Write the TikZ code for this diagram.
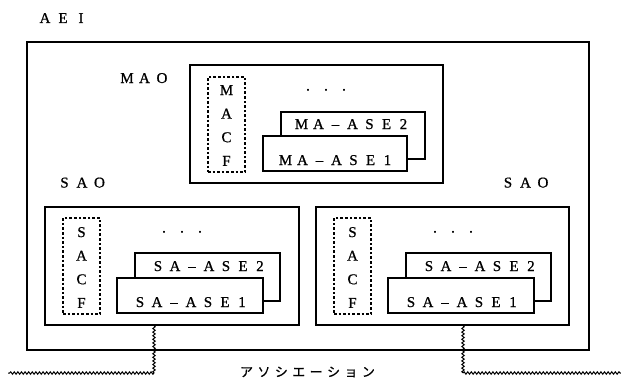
\documentclass[tikz,border=0pt]{standalone}
\usepackage{fontspec}
\setmainfont{Liberation Serif}[FakeBold=0.8]
\newfontfamily\jpfont{Noto Sans CJK JP}[FakeBold=0.6]
\usetikzlibrary{decorations.pathmorphing,fit}
\newcommand\fwcells[2]{\foreach \ch in {#2}{\makebox[#1pt]{\ch}}}
\begin{document}
\begin{tikzpicture}[x=1pt,y=-1pt,
  box/.style={draw, rectangle, line width=1.2pt, inner sep=0pt, fill=white},
  outerbox/.style={draw, rectangle, line width=1.7pt, inner sep=0pt},
  dbox/.style={draw, rectangle, line width=1.5pt, inner sep=0pt, dash pattern=on 2.6pt off 2pt},
  lbl/.style={font=\fontsize{15}{17}\selectfont, inner sep=0pt, anchor=base},
  vlbl/.style={font=\fontsize{15}{23.6}\selectfont, align=center, inner sep=0pt},
  jlbl/.style={font=\jpfont\fontsize{13}{15}\selectfont, inner sep=0pt},
  wave/.style={line width=1pt, decorate, decoration={snake, amplitude=1.2pt, segment length=3.6pt}}]
\useasboundingbox (0,0) rectangle (621,380);
% outer AEI box
\node[outerbox, fit={(27,42) (589,350)}] (aei) {};
\node[lbl] (aeit) at (63,23) {\fwcells{18}{A,E,I}};
% MAO
\node[lbl] (maot) at (144.5,83) {\fwcells{17.5}{M,A,O}};
\node[box, fit={(190,65) (443,183)}] (mao) {};
\node[dbox, fit={(208,77) (245,172)}] (macf) {};
\node[vlbl] (macft) at (226.5,125.5) {M\\A\\C\\F};
\node[lbl] (maodots) at (326,90.5) {\fwcells{18}{.,.,.}};
\node[box, fit={(281,112) (425,159)}] (mase2) {};
\node[lbl] (mase2t) at (352.5,129) {\fwcells{17}{M,A,–,A,S,E,2}};
\node[box, fit={(263,136) (407,171)}] (mase1) {};
\node[lbl] (mase1t) at (336.5,165) {\fwcells{17}{M,A,–,A,S,E,1}};
% SAO labels
\node[lbl] (saolt) at (82,187.5) {\fwcells{17.5}{S,A,O}};
\node[lbl] (saort) at (525.5,187.5) {\fwcells{17.5}{S,A,O}};
% left SAO
\node[box, fit={(45,207) (299,325)}] (saol) {};
\node[dbox, fit={(63,218) (100,314)}] (sacfl) {};
\node[vlbl] (sacflt) at (81.5,267.5) {S\\A\\C\\F};
\node[lbl] (saldots) at (182,232.5) {\fwcells{18}{.,.,.}};
\node[box, fit={(135,253) (280,301)}] (sasel2) {};
\node[lbl] (sasel2t) at (209,271) {\fwcells{17}{S,A,–,A,S,E,2}};
\node[box, fit={(117,278) (263,313)}] (sasel1) {};
\node[lbl] (sasel1t) at (191,307) {\fwcells{17}{S,A,–,A,S,E,1}};
% right SAO
\node[box, fit={(316,207) (569,325)}] (saor) {};
\node[dbox, fit={(334,218) (371,314)}] (sacfr) {};
\node[vlbl] (sacfrt) at (352.5,267.5) {S\\A\\C\\F};
\node[lbl] (sardots) at (453,232.5) {\fwcells{18}{.,.,.}};
\node[box, fit={(406,253) (551,301)}] (saser2) {};
\node[lbl] (saser2t) at (480,271) {\fwcells{17}{S,A,–,A,S,E,2}};
\node[box, fit={(388,278) (534,313)}] (saser1) {};
\node[lbl] (saser1t) at (462,307) {\fwcells{17}{S,A,–,A,S,E,1}};
% association
\coordinate (wl) at (saol.south -| 154,0);
\coordinate (wlc) at (154,373);
\coordinate (wle) at (8,373);
\coordinate (wr) at (saor.south -| 463,0);
\coordinate (wrc) at (463,373);
\coordinate (wre) at (621,373);
\draw[wave] (wl) -- (wlc);
\draw[wave] (wlc) -- (wle);
\draw[wave] (wr) -- (wrc);
\draw[wave] (wrc) -- (wre);
\node[jlbl] (assoc) at (307.5,372) {\fwcells{17.4}{ア,ソ,シ,エ,ー,シ,ョ,ン}};
\end{tikzpicture}
\end{document}
